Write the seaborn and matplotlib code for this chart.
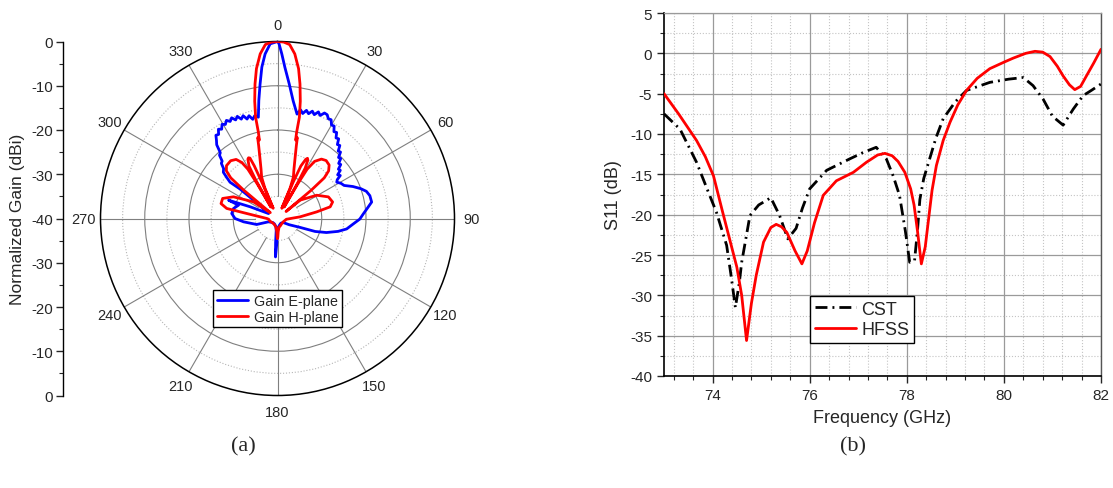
import numpy as np
import pandas as pd
import matplotlib
matplotlib.use("Agg")
import matplotlib.pyplot as plt
import seaborn as sns
from matplotlib.ticker import MultipleLocator, FixedLocator
from matplotlib.lines import Line2D

# ---------------- (a) radiation pattern data (angle deg, normalized gain dB) ----------------
e_theta = [-180, -178.5, -177, -175.5, -174, -168, -150, -130, -110, -106, -95.6, -90, -83.8, -77.2,
           -71.1, -69.5, -66.8, -61, -54.7, -52.3, -51.8, -52.6, -51, -49.5, -47.2, -45.5, -44,
           -42.5, -41, -39.5, -38, -36.5, -35, -33.5, -32, -30.5, -29, -27.5, -26, -24.5, -23,
           -21.5, -20, -18.5, -17, -15.5, -14, -12.5, -10.7, -9, -7.4, -5.9, -4.3, -2.4, 0,
           0.5, 1.5, 2.8, 5.0, 7.6, 10.6, 12, 13.5, 15, 16.5, 18, 19.5, 21, 22.5, 24, 25.6, 27,
           28.5, 30, 31.5, 33, 34.5, 36, 37.5, 39, 40.5, 42, 43.5, 45, 46.5, 48, 49.5, 51, 52.5,
           54, 55.6, 57, 58.5, 61, 63.6, 67, 70.3, 73, 76.1, 80.1, 83.9, 87, 90.4, 94, 98.6, 102,
           106, 109, 111.5, 118, 125, 145, 165, 180]
e_gain = [-37.5, -34.5, -31.3, -34.5, -37.2, -38.2, -38.6, -38.6, -37.8, -35.1, -32.3, -30.4, -29.6, -29.8,
          -30.7, -28.2, -33.3, -37.7, -35.6, -32.2, -29.2, -26.5, -25.2, -23.9, -23.4, -22.2, -22.0,
          -20.6, -20.3, -18.4, -17.6, -16.6, -16.8, -15.8, -16.2, -15.3, -15.7, -15.0, -15.6, -15.0, -15.8,
          -15.2, -16.1, -15.5, -16.5, -15.9, -16.9, -16.2, -16.7, -13.0, -9.4, -5.6, -2.7, -0.5, 0.0,
          -0.5, -2.8, -5.8, -9.5, -13.2, -16.0, -14.9, -15.6, -14.7, -15.3, -14.5, -15.1, -14.2, -14.8, -13.9, -14.0, -14.7,
          -14.6, -15.6, -15.5, -16.6, -16.4, -17.5, -17.3, -18.5, -18.3, -19.5, -19.3, -20.5, -20.3, -21.4, -21.2, -22.3, -22.1,
          -23.2, -22.8, -23.9, -24.3, -23.6, -23.2, -21.5, -20.0, -19.0, -18.5, -18.4, -19.7, -20.6, -21.4, -22.8, -24.2, -26.0,
          -28.5, -31.0, -34.5, -37.0, -38.4, -38.7, -38.4, -37.5]

h_theta = [-180, -179, -177, -170, -150, -130, -110, -95, -90, -80.8, -78.8, -75.2, -69.9, -63.8, -55.3,
           -50.7, -50, -49, -47, -44, -39, -35, -32.5, -31, -30.3, -30,
           -29.5, -28.5, -26.5, -25.5, -24.5, -23.8, -23.3, -23,
           -22.5, -21, -18.4, -16, -14.5, -13.8, -13, -12.5, -12.2, -11, -9.5, -8, -6, -4, -2, 0,
           2, 4, 6, 8, 9.5, 11, 12.2, 12.5, 13, 13.8, 14.5, 16, 18.4, 21, 22.5, 23,
           23.3, 24, 25.5, 26.5, 27.5, 28.8, 29.6, 30,
           30.3, 31, 33, 36.5, 40, 44, 47, 49, 50, 50.5,
           51, 59.3, 67, 73.3, 77.5, 80.4, 85.8, 95, 102, 120, 140, 160, 170, 177, 179, 180]
h_gain = [-35.5, -35.8, -37.0, -38.0, -38.5, -38.5, -38.2, -38.0, -37.6, -33.0, -28.3, -26.8, -26.8, -28.9, -33.4,
          -37.9, -30.0, -26.0, -24.2, -23.4, -23.2, -23.7, -25.0, -27.0, -31.0, -37.0,
          -30.0, -26.5, -25.0, -24.8, -25.0, -27.0, -31.0, -37.5,
          -32.5, -30.0, -28.2, -25.5, -23.0, -21.2, -21.8, -20.0, -16.6, -13.0, -9.2, -5.8, -2.6, -0.6, -0.1, 0.0,
          -0.1, -0.6, -2.6, -5.8, -9.2, -13.0, -16.6, -20.0, -21.8, -21.2, -23.0, -25.5, -28.2, -30.0, -32.5, -37.5,
          -31.0, -27.0, -25.2, -24.8, -25.2, -27.0, -31.0, -37.0,
          -31.0, -27.0, -24.6, -23.3, -22.9, -23.2, -24.2, -26.0, -30.0, -37.5,
          -33.4, -29.7, -27.5, -27.0, -27.8, -31.0, -34.9, -38.0, -38.2, -38.5, -38.5, -38.2, -38.0, -37.0, -35.8, -35.5]
assert len(e_theta) == len(e_gain) and len(h_theta) == len(h_gain)

angle_ticks = list(range(0, 360, 30))
ring_levels = [-35, -30, -25, -20, -15, -10, -5]
left_ticks = [-40, -30, -20, -10, 0, 10, 20, 30, 40]
left_labels = ["0", "-10", "-20", "-30", "-40", "-30", "-20", "-10", "0"]

# ---------------- (b) S11 data ----------------
f_hfss = [73.0, 73.3, 73.67, 73.85, 74.02, 74.2, 74.35, 74.5, 74.6, 74.7, 74.8, 74.9, 75.05, 75.2, 75.31,
          75.42, 75.53, 75.7, 75.84, 75.95, 76.1, 76.28, 76.55, 76.9, 77.17, 77.4, 77.55, 77.7, 77.82,
          77.96, 78.08, 78.15, 78.22, 78.3, 78.38, 78.44, 78.52, 78.61, 78.75, 78.89, 79.05, 79.23, 79.45,
          79.71, 80.0, 80.19, 80.45, 80.64, 80.8, 80.95, 81.1, 81.22, 81.35, 81.46, 81.58, 81.7, 81.85, 82.0]
s_hfss = [-5.0, -7.5, -10.8, -12.8, -15.2, -19.5, -23.0, -26.5, -30.0, -35.6, -31.0, -27.5, -23.4, -21.6, -21.2,
          -21.5, -22.2, -24.5, -26.1, -24.5, -21.0, -17.6, -15.8, -14.75, -13.5, -12.6, -12.4, -12.7, -13.4,
          -14.75, -16.8, -18.8, -22.0, -26.1, -24.0, -21.0, -17.0, -13.9, -10.8, -8.55, -6.4, -4.6, -3.1,
          -1.9, -1.1, -0.6, 0.0, 0.25, 0.15, -0.4, -1.6, -2.8, -3.9, -4.5, -4.1, -2.8, -1.2, 0.5]

f_cst = [73.0, 73.33, 73.67, 73.9, 74.08, 74.29, 74.38, 74.47, 74.55, 74.6, 74.7, 74.77, 74.95, 75.2, 75.38,
         75.55, 75.72, 75.85, 76.0, 76.35, 76.82, 77.1, 77.37, 77.58, 77.72, 77.85, 77.97, 78.06, 78.16,
         78.22, 78.27, 78.35, 78.47, 78.6, 78.75, 79.0, 79.23, 79.71, 80.1, 80.4, 80.6, 80.81, 81.0, 81.22,
         81.43, 81.63, 81.8, 82.0]
s_cst = [-7.5, -9.4, -13.5, -17.0, -19.7, -23.8, -27.5, -31.5, -28.5, -25.9, -22.5, -20.1, -18.8, -17.9, -20.1,
         -23.0, -21.7, -19.2, -16.8, -14.5, -13.1, -12.3, -11.65, -13.1, -15.2, -17.6, -22.0, -25.9, -25.7,
         -22.0, -18.1, -15.5, -13.1, -10.5, -8.1, -6.0, -4.6, -3.6, -3.2, -3.0, -4.0, -5.7, -7.8, -8.9,
         -6.9, -5.25, -4.6, -3.8]

# ---------------- figure ----------------
sns.set_theme(style="white")
plt.rcParams["font.family"] = ["Liberation Sans", "DejaVu Sans"]
plt.rcParams["axes.unicode_minus"] = False

W, H = 1113, 489
fig = plt.figure(figsize=(W / 100, H / 100), dpi=100)


def rect(x0, y0, x1, y1):
    return [x0 / W, 1 - y1 / H, (x1 - x0) / W, (y1 - y0) / H]


# ---- polar panel ----
axp = fig.add_axes(rect(100.5, 42.5, 454.5, 396.5), projection="polar")
axp.set_theta_zero_location("N")
axp.set_theta_direction(-1)

df_e = pd.DataFrame({"t": np.deg2rad(e_theta), "g": e_gain})
df_h = pd.DataFrame({"t": np.deg2rad(h_theta), "g": h_gain})
sns.lineplot(data=df_e, x="t", y="g", ax=axp, sort=False, estimator=None, color="#0000ff",
             lw=2.0, legend=False, zorder=4)
sns.lineplot(data=df_h, x="t", y="g", ax=axp, sort=False, estimator=None, color="#ff0000",
             lw=2.0, legend=False, zorder=5)
axp.set_xlabel("")
axp.set_ylabel("")
axp.set_rlim(-40, 0)

# rings
axp.set_rgrids(ring_levels, labels=[""] * len(ring_levels))
axp.yaxis.grid(True)
for gl, lev in zip(axp.yaxis.get_gridlines(), ring_levels):
    if lev % 10 == 0:
        gl.set_color("#7f7f7f"); gl.set_linestyle("-"); gl.set_linewidth(0.8)
    else:
        gl.set_color("#b5b5b5"); gl.set_linestyle(":"); gl.set_linewidth(0.8)
axp.xaxis.grid(False)
# spokes from inner dotted ring to outer circle
for a in angle_ticks:
    axp.plot([np.deg2rad(a), np.deg2rad(a)], [-35, 0], color="#7f7f7f", lw=0.8, zorder=1)
axp.set_xticks(np.deg2rad(angle_ticks))
axp.set_xticklabels([str(a) for a in angle_ticks], fontsize=10.5)
axp.tick_params(axis="x", pad=-1)
axp.spines["polar"].set_color("black")
axp.spines["polar"].set_linewidth(1.1)
axp.set_facecolor("white")

leg_a = [Line2D([], [], color="#0000ff", lw=2.0), Line2D([], [], color="#ff0000", lw=2.0)]
axp.legend(leg_a, ["Gain E-plane", "Gain H-plane"], loc="upper left",
           bbox_to_anchor=(213 / W, 1 - 291 / H), bbox_transform=fig.transFigure,
           fontsize=10.3, frameon=True, fancybox=False, edgecolor="black", framealpha=1,
           handlelength=2.2, handletextpad=0.4, borderpad=0.25, labelspacing=0.15,
           borderaxespad=0)

# ---- left gain axis ----
axl = fig.add_axes(rect(63, 42.5, 63.4, 396.5))
axl.set_ylim(-40, 40)
axl.yaxis.set_major_locator(FixedLocator(left_ticks))
axl.set_yticklabels(left_labels, fontsize=10.8)
axl.yaxis.set_minor_locator(MultipleLocator(5))
axl.set_xticks([])
for s in ["top", "right", "bottom"]:
    axl.spines[s].set_visible(False)
axl.spines["left"].set_color("black")
axl.spines["left"].set_linewidth(1.0)
axl.tick_params(axis="y", which="major", direction="out", length=5, width=1, pad=2, left=True)
axl.tick_params(axis="y", which="minor", direction="out", length=3, width=0.8, left=True)
axl.patch.set_visible(False)
axl.set_ylabel("Normalized Gain (dBi)", fontsize=12.5, labelpad=5)

# ---- S11 panel ----
axr = fig.add_axes(rect(664, 14, 1101, 377))
sns.lineplot(x=f_cst, y=s_cst, ax=axr, color="black", lw=2.0, estimator=None, legend=False, zorder=4)
sns.lineplot(x=f_hfss, y=s_hfss, ax=axr, color="#ff0000", lw=2.0, estimator=None, legend=False, zorder=5)
axr.lines[0].set_dashes([4.3, 1.8, 0.7, 1.8])
axr.set_xlim(73, 82)
axr.set_ylim(-40, 5)
axr.xaxis.set_major_locator(FixedLocator([74, 76, 78, 80, 82]))
axr.xaxis.set_minor_locator(MultipleLocator(0.4))
axr.yaxis.set_major_locator(MultipleLocator(5))
axr.yaxis.set_minor_locator(MultipleLocator(2.5))
axr.grid(which="major", color="#9a9a9a", lw=0.9, ls="-")
axr.grid(which="minor", color="#c4c4c4", lw=0.8, ls=":")
axr.set_axisbelow(True)
axr.tick_params(axis="both", which="major", direction="out", length=5, width=1, labelsize=11,
                bottom=True, left=True)
axr.tick_params(axis="both", which="minor", direction="out", length=3, width=0.8, bottom=True, left=True)
for s in ["left", "bottom"]:
    axr.spines[s].set_color("black"); axr.spines[s].set_linewidth(1.2)
axr.spines["top"].set_color("#9a9a9a"); axr.spines["top"].set_linewidth(0.9)
axr.spines["right"].set_color("#555555"); axr.spines["right"].set_linewidth(1.0)
axr.set_xlabel("Frequency (GHz)", fontsize=13, labelpad=5)
axr.set_ylabel("S11 (dB)", fontsize=13, labelpad=6)

leg_b = [Line2D([], [], color="black", lw=2.0, dashes=[4.3, 1.8, 0.7, 1.8]),
         Line2D([], [], color="#ff0000", lw=2.0)]
axr.legend(leg_b, ["CST", "HFSS"], loc="upper left",
           bbox_to_anchor=(810 / W, 1 - 297 / H), bbox_transform=fig.transFigure,
           fontsize=13, frameon=True, fancybox=False, edgecolor="black", framealpha=1,
           handlelength=2.3, handletextpad=0.3, borderpad=0.25, labelspacing=0.2, borderaxespad=0)

fig.text(243 / W, 1 - 447 / H, "(a)", family=["Liberation Serif", "DejaVu Serif"], fontsize=16,
         ha="center", va="center")
fig.text(853 / W, 1 - 447 / H, "(b)", family=["Liberation Serif", "DejaVu Serif"], fontsize=16,
         ha="center", va="center")

fig.savefig("out.png", dpi=100, facecolor="white")
